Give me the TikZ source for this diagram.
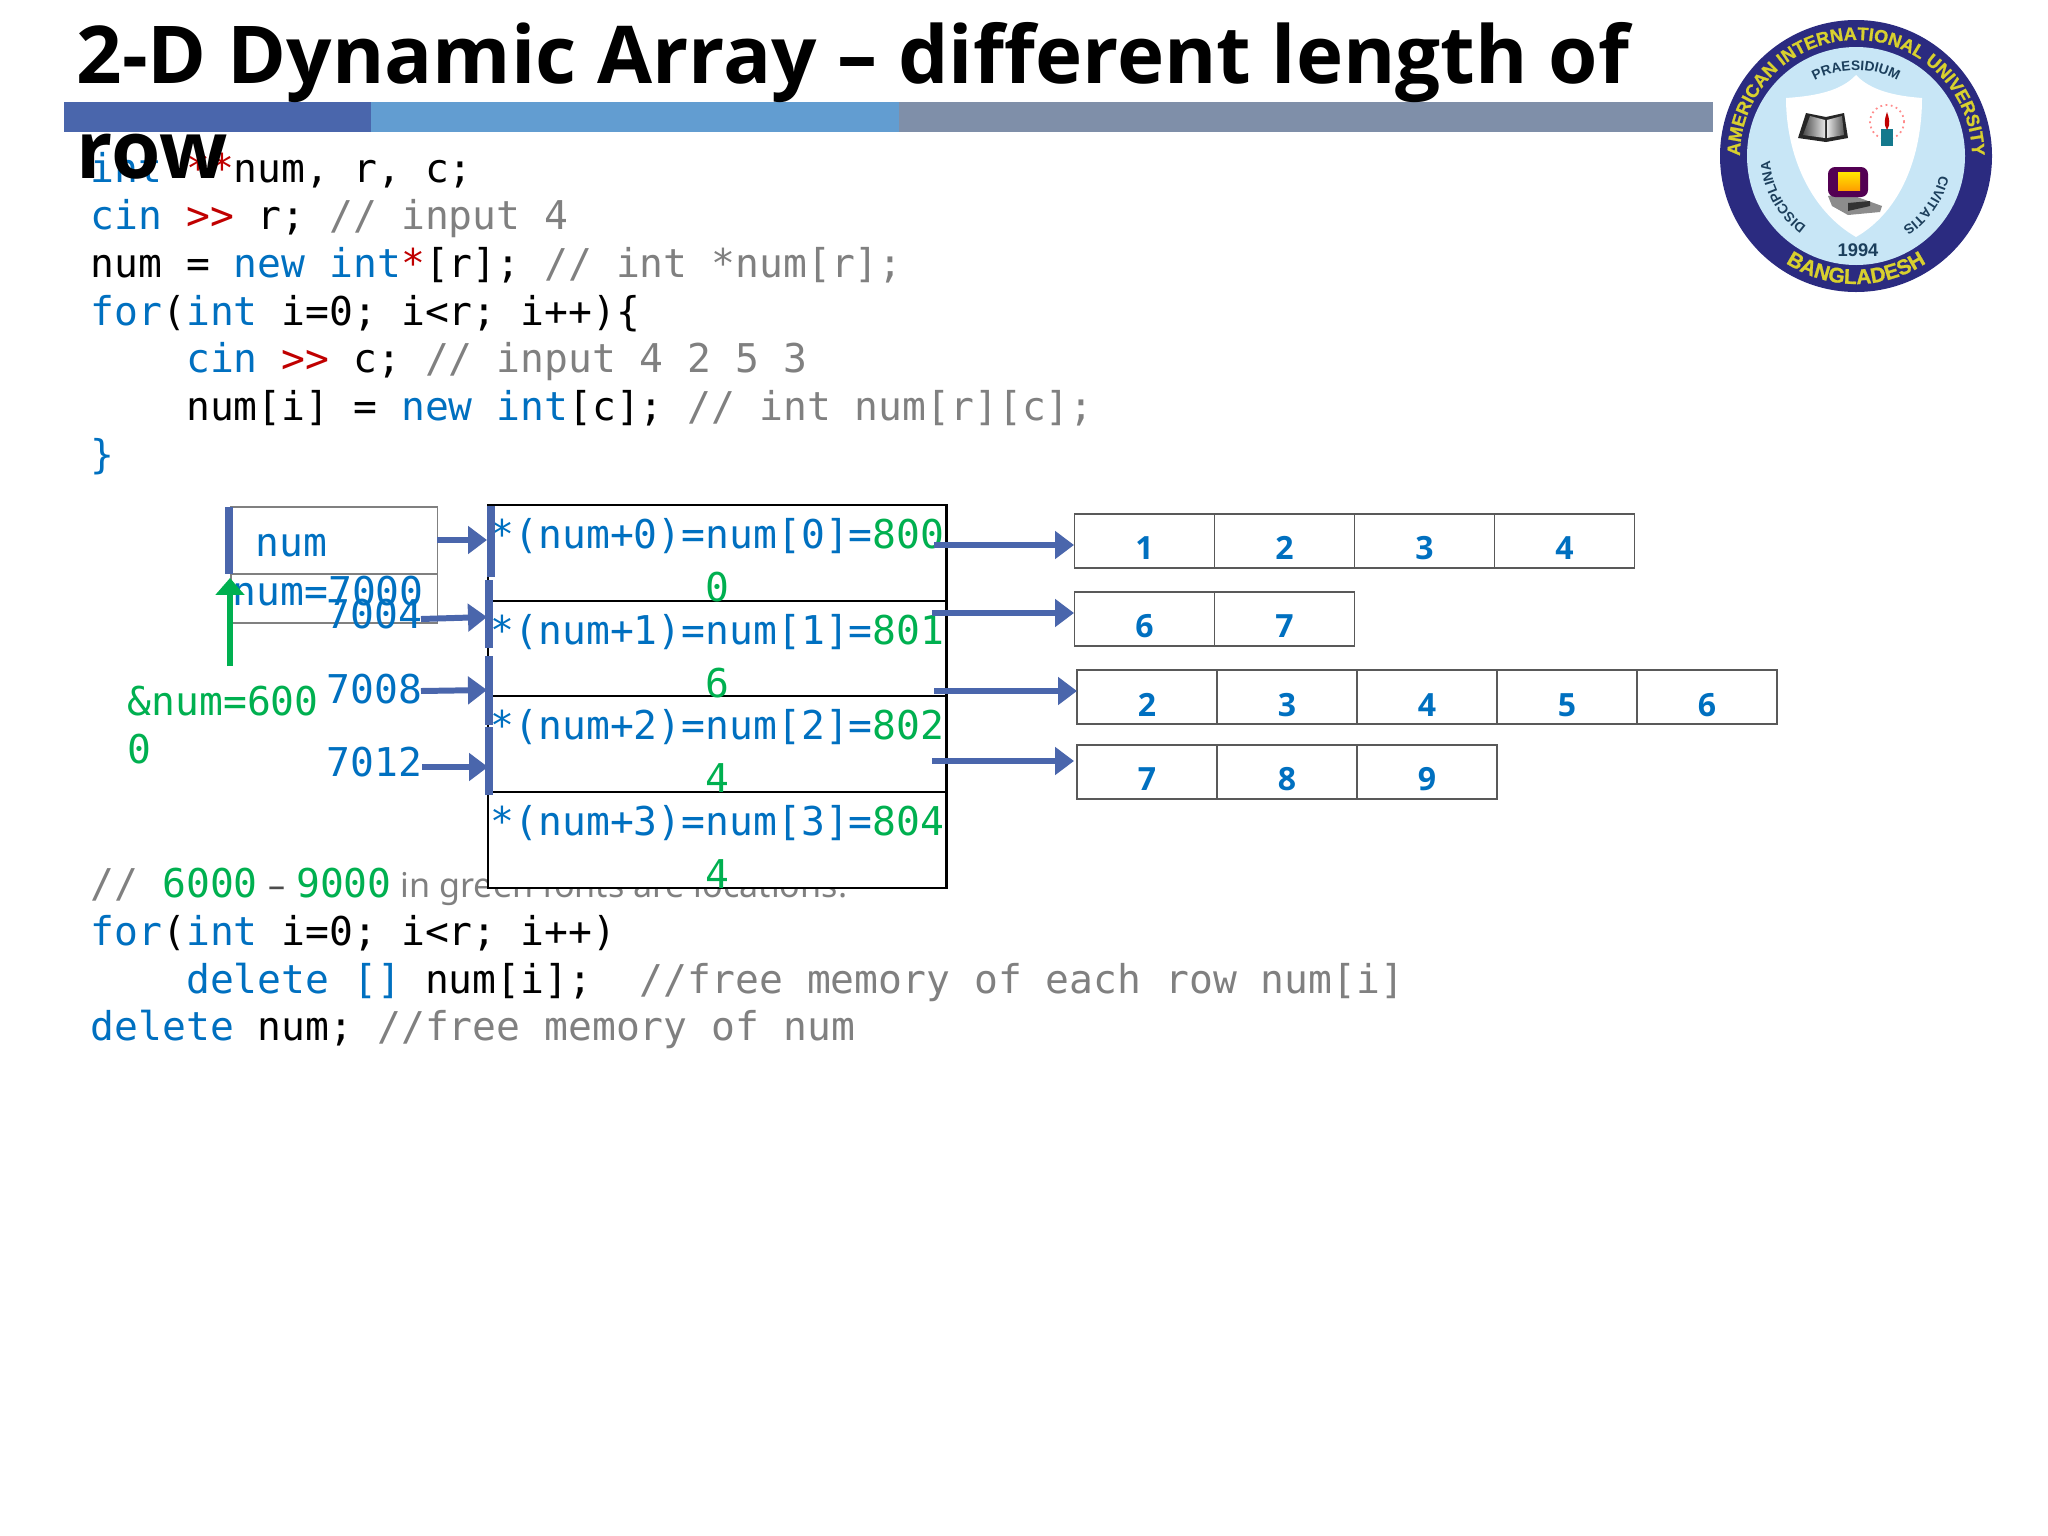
\documentclass[tikz,border=0pt]{standalone}
\usepackage{fontspec}
\setmainfont{Noto Sans}
\setsansfont{Liberation Sans}
\setmonofont{DejaVu Sans Mono}
\newfontfamily\headfont{Open Sans}
\usetikzlibrary{arrows.meta}
\usetikzlibrary{decorations.text}
\definecolor{barone}{HTML}{4A66AC}
\definecolor{bartwo}{HTML}{629DD1}
\definecolor{barthree}{HTML}{7F8FA9}
\definecolor{kwblue}{HTML}{0070C0}
\definecolor{memgreen}{HTML}{00B050}
\definecolor{oprred}{HTML}{C00000}
\definecolor{cmtgray}{HTML}{808080}
\definecolor{ringblue}{HTML}{2B2B80}
\definecolor{ringgold}{HTML}{D8D02E}
\definecolor{seallight}{HTML}{C8E6F6}
\definecolor{sealdark}{HTML}{1C3F5C}
\newcommand{\codesize}{\fontsize{11.28}{13}\selectfont}
\newcommand{\kw}[1]{\textcolor{kwblue}{#1}}
\newcommand{\opr}[1]{\textcolor{oprred}{#1}}
\newcommand{\cmt}[1]{\textcolor{cmtgray}{#1}}
\newcommand{\mem}[1]{\textcolor{memgreen}{#1}}
\tikzset{
  codeline/.style={anchor=base west,inner sep=0pt,font=\codesize\ttfamily},
  midline/.style={anchor=base,inner sep=0pt,font=\codesize\ttfamily},
  rowbox/.style={draw=black,fill=white,line width=0.7pt,anchor=north west,outer sep=0pt,minimum width=4.58cm,minimum height=0.96cm,inner sep=0pt},
  numbox/.style={draw=cmtgray,line width=0.35pt,anchor=north west,outer sep=0pt,minimum width=2.06cm,inner sep=0pt},
  cellbox/.style={draw=black!65,line width=0.35pt,anchor=north west,outer sep=0pt,minimum width=1.4cm,minimum height=0.54cm,inner sep=0pt},
  celltext/.style={anchor=base,inner sep=0pt,text=kwblue,font=\fontsize{9.1}{11}\selectfont\headfont\bfseries},
  titleline/.style={anchor=base west,inner sep=0pt,font=\fontsize{22.7}{26}\selectfont\headfont\bfseries},
  ptr/.style={barone,line width=1.7pt,-{Triangle[length=5.4pt,width=7.7pt]}},
  upptr/.style={memgreen,line width=1.6pt,-{Triangle[length=4.8pt,width=8pt]}},
  slab/.style={barone,line width=2.3pt},
  sealtext/.style={decorate,decoration={text along path,text align=center,text={#1}}}
}
\begin{document}
\begin{tikzpicture}[x=0.01cm,y=-0.01cm]
\useasboundingbox (0,0) rectangle (2048,1536);
\fill[white] (0,0) rectangle (2048,1536);
\fill[barone] (64,102) rectangle (371,132);
\fill[bartwo] (371,102) rectangle (899,132);
\fill[barthree] (899,102) rectangle (1713,132);

\node[codeline] (code1) at (90,182) {\kw{int} \opr{**}num, r, c;};
\node[codeline] (code2) at (90,229) {\kw{cin} \opr{>>} r; \cmt{// input 4}};
\node[codeline] (code3) at (90,277) {num = \kw{new} \kw{int}\opr{*}[r]; \cmt{// int *num[r];}};
\node[codeline] (code4) at (90,325) {\kw{for}(\kw{int} i=0; i<r; i++)\{};
\node[codeline] (code5) at (185.5,372) {\kw{cin} \opr{>>} c; \cmt{// input 4 2 5 3}};
\node[codeline] (code6) at (185.5,420) {num[i] = \kw{new} \kw{int}[c]; \cmt{// int num[r][c];}};
\node[codeline] (code7) at (90,468) {\kw{\}}};

\node[codeline] (note1) at (90,897) {\cmt{//} \mem{6000}};
\node[anchor=base west,inner sep=0pt,text=black!70,font=\fontsize{9.7}{11}\selectfont] (note2) at (268,897) {–};
\node[codeline] (note3) at (295.5,897) {\mem{9000}};
\node[anchor=base west,inner sep=0pt,text=cmtgray,font=\fontsize{9.7}{11}\selectfont] (note4) at (400,897) {in green fonts are locations.};
\node[codeline] (code8) at (90,945) {\kw{for}(\kw{int} i=0; i<r; i++)};
\node[codeline] (code9) at (185.5,993) {\kw{delete []} num[i];~~\cmt{//free memory of each row num[i]}};
\node[codeline] (code10) at (90,1040) {\kw{delete} num; \cmt{//free memory of num}};

\node[numbox,minimum height=0.67cm] (numcell) at (231,507) {};
\node[numbox,minimum height=0.49cm] (addrcell) at (231,574) {};
\node[codeline,text=kwblue] (numname) at (255,556) {num};
\node[codeline,text=kwblue] (numval) at (232,605) {num=7000};
\node[codeline,text=kwblue] (addr1) at (326,628) {7004};
\node[codeline,text=kwblue] (addr2) at (326,703) {7008};
\node[codeline,text=kwblue] (addr3) at (326,776) {7012};
\node[codeline,text=memgreen] (numaddr) at (127,715) {\&num=600};
\node[codeline,text=memgreen] (numaddrb) at (127,763) {0};

\node[rowbox] (row0) at (488,505) {};
\node[rowbox] (row1) at (488,601) {};
\node[rowbox] (row2) at (488,696) {};
\node[rowbox] (row3) at (488,792) {};
\node[codeline,text=kwblue] (ptr0) at (490,548) {*(num+0)=num[0]=\mem{800}};
\node[midline,text=memgreen] (ptr0b) at (717,601) {0};
\node[codeline,text=kwblue] (ptr1) at (490,644) {*(num+1)=num[1]=\mem{801}};
\node[midline,text=memgreen] (ptr1b) at (717,697) {6};
\node[codeline,text=kwblue] (ptr2) at (490,739) {*(num+2)=num[2]=\mem{802}};
\node[midline,text=memgreen] (ptr2b) at (717,792) {4};
\node[codeline,text=kwblue] (ptr3) at (490,835) {*(num+3)=num[3]=\mem{804}};
\node[midline,text=memgreen] (ptr3b) at (717,888) {4};

\draw[slab] (229,507) -- (229,574);
\draw[slab] (491,506) -- (491,577);
\draw[slab] (489,580) -- (489,648);
\draw[slab] (489,656) -- (489,725);
\draw[slab] (489,727) -- (489,795);

\foreach \v [count=\i from 0] in {1,2,3,4} {
  \node[cellbox] (ra\i) at (1074.5+140*\i,514) {};
  \node[celltext] (ta\i) at (1144.5+140*\i,559) {\v};
}
\foreach \v [count=\i from 0] in {6,7} {
  \node[cellbox] (rb\i) at (1074.5+140*\i,592) {};
  \node[celltext] (tb\i) at (1144.5+140*\i,637) {\v};
}
\foreach \v [count=\i from 0] in {2,3,4,5,6} {
  \node[cellbox] (rc\i) at (1077+140*\i,670) {};
  \node[celltext] (tc\i) at (1147+140*\i,716) {\v};
}
\foreach \v [count=\i from 0] in {7,8,9} {
  \node[cellbox] (rd\i) at (1077+140*\i,745) {};
  \node[celltext] (td\i) at (1147+140*\i,790) {\v};
}

\coordinate (na) at (437,540);
\coordinate (nb) at (487,540);
\coordinate (oa) at (421,619);
\coordinate (ob) at (487,617);
\coordinate (pa) at (421,691);
\coordinate (pb) at (487,690);
\coordinate (qa) at (422,767);
\coordinate (qb) at (488,767);
\draw[ptr] (na) -- (nb);
\draw[ptr] (oa) -- (ob);
\draw[ptr] (pa) -- (pb);
\draw[ptr] (qa) -- (qb);
\coordinate (ga) at (934,545);
\coordinate (gb) at (1074,545);
\coordinate (ha) at (932,613);
\coordinate (hb) at (1074,613);
\coordinate (ia) at (934,691);
\coordinate (ib) at (1077,691);
\coordinate (ja) at (932,761);
\coordinate (jb) at (1074,761);
\draw[ptr] (ga) -- (gb);
\draw[ptr] (ha) -- (hb);
\draw[ptr] (ia) -- (ib);
\draw[ptr] (ja) -- (jb);
\coordinate (ua) at (230,666);
\coordinate (ub) at (230,578);
\draw[upptr] (ua) -- (ub);

\node[titleline] (title) at (76,83) {2-D Dynamic Array – different length of};
\node[titleline] (titleb) at (76,178) {row};

\begin{scope}[shift={(1856,156)},y=0.01cm]
\fill[ringblue] (0,0) circle (136);
\fill[seallight] (0,0) circle (109);
\fill[white] (0,81) .. controls (-15,65) and (-40,60) .. (-70,58) .. controls (-70,0) and (-45,-55) .. (0,-81) .. controls (45,-55) and (66,0) .. (66,58) .. controls (40,60) and (15,65) .. (0,81) -- cycle;
\path[sealtext={|\sffamily\bfseries\fontsize{5.15}{6}\selectfont\addfontfeature{FakeBold=1}\color{ringgold}|AMERICAN INTERNATIONAL UNIVERSITY}] (-116,0) arc (180:0:116);
\path[sealtext={|\sffamily\bfseries\fontsize{6}{7}\selectfont\addfontfeature{FakeBold=1}\color{ringgold}|BANGLADESH}] (236:128) arc (236:304:128);
\path[sealtext={|\sffamily\bfseries\fontsize{3.9}{5}\selectfont\color{sealdark}|PRAESIDIUM}] (125:86) arc (125:55:86);
\path[sealtext={|\sffamily\bfseries\fontsize{3.9}{5}\selectfont\color{sealdark}|DISCIPLINA}] (238:86) arc (238:180:86);
\path[sealtext={|\sffamily\bfseries\fontsize{3.9}{5}\selectfont\color{sealdark}|CIVITATIS}] (-12:86) arc (-12:-58:86);
\node[inner sep=0pt,font=\sffamily\bfseries\fontsize{5.2}{6}\selectfont,text=sealdark] (sealyear) at (2,-94) {1994};
\fill[black!85] (-58,18) -- (-50,43) -- (-30,39) -- (-12,43) -- (-8,18) -- (-30,14) -- cycle;
\shade[left color=black!70,right color=black!10] (-53,21) -- (-46,40) -- (-31,36) -- (-31,18) -- cycle;
\shade[left color=black!10,right color=black!65] (-29,18) -- (-29,36) -- (-14,40) -- (-12,21) -- cycle;
\draw[red!45,densely dotted,line width=0.5pt] (31,34) circle (17);
\fill[sealdark!70!cyan] (25,10) rectangle (37,27);
\fill[oprred] (31,26) .. controls (27,32) and (29,38) .. (31,44) .. controls (33,38) and (35,32) .. (31,26) -- cycle;
\fill[black!45] (-28,-40) -- (-10,-37) -- (26,-50) -- (24,-56) -- (-8,-59) -- (-24,-50) -- cycle;
\fill[black!80] (-8,-47) -- (14,-45) -- (14,-50) -- (-8,-55) -- cycle;
\fill[violet!65!black,rounded corners=2] (-28,-41) rectangle (12,-11);
\shade[top color=yellow!80!orange,bottom color=orange!75!yellow] (-18,-34) rectangle (4,-16);
\end{scope}
\end{tikzpicture}
\end{document}
